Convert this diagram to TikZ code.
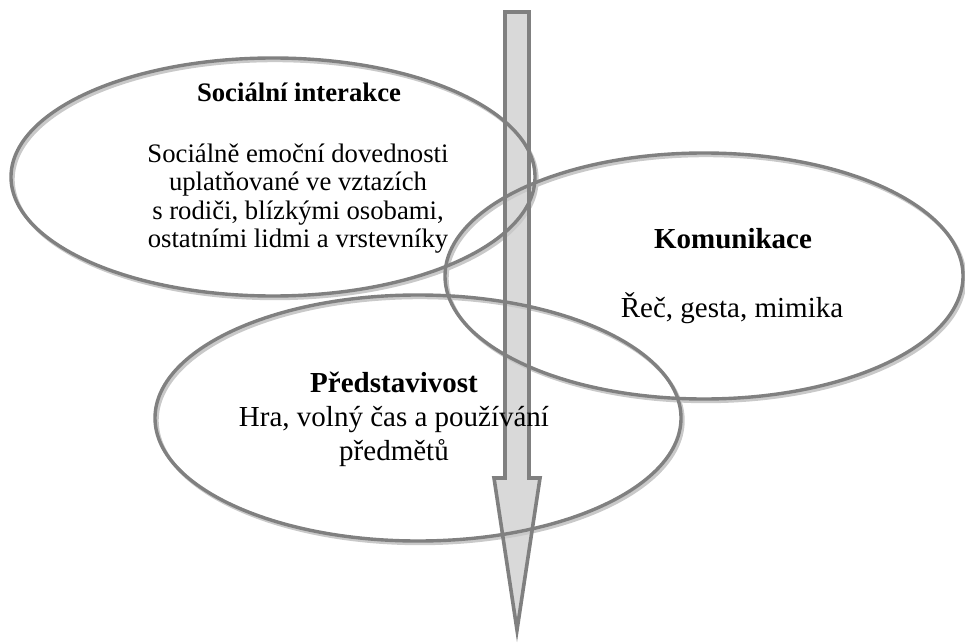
\documentclass[tikz,border=0pt]{standalone}
\usepackage{fontspec}
\setmainfont{Liberation Serif}
\usetikzlibrary{shapes.geometric}
\definecolor{linegray}{HTML}{808080}
\definecolor{shadowgray}{HTML}{C9C9C9}
\definecolor{arrowfill}{HTML}{D9D9D9}
\tikzset{
  ell/.style={shape=ellipse, draw=linegray, line width=3.4pt, inner sep=0pt, outer sep=0pt},
  ellshadow/.style={shape=ellipse, draw=shadowgray, line width=3.4pt, inner sep=0pt, outer sep=0pt},
  small/.style={font=\fontsize{26.7}{29}\selectfont, anchor=base, inner sep=0pt},
  big/.style={font=\fontsize{29}{33}\selectfont, anchor=base, inner sep=0pt},
  arrowshape/.style={line width=3.6pt, line join=miter}
}
\begin{document}
\begin{tikzpicture}[x=1pt,y=-1pt]
\useasboundingbox (0,0) rectangle (965,644);
% arrow points
\coordinate (a1) at (505,12);
\coordinate (a2) at (529,12);
\coordinate (a3) at (529,478);
\coordinate (a4) at (540,478);
\coordinate (a5) at (517,630);
\coordinate (a6) at (494,478);
\coordinate (a7) at (505,478);
\fill[arrowfill] (a1) -- (a2) -- (a3) -- (a4) -- (a5) -- (a6) -- (a7) -- cycle;
% shadows
\node[ellshadow, minimum width=524pt, minimum height=238pt] (e1s) at (275,179.5) {};
\node[ellshadow, minimum width=518pt, minimum height=246pt] (e2s) at (706,278.5) {};
\node[ellshadow, minimum width=526pt, minimum height=246pt] (e3s) at (420,420.5) {};
% ellipses
\node[ell, minimum width=524pt, minimum height=238pt] (e1) at (273,177) {};
\node[ell, minimum width=518pt, minimum height=246pt] (e2) at (704,276) {};
\node[ell, minimum width=526pt, minimum height=246pt] (e3) at (418,418) {};
% arrow outline
\draw[linegray, arrowshape] (a1) -- (a2) -- (a3) -- (a4) -- (a5) -- (a6) -- (a7) -- cycle;
% texts
\node[small, font=\fontsize{26.7}{29}\selectfont\bfseries] (t1) at (299,102) {Sociální interakce};
\node[small] (t1a) at (298,163) {Sociálně emoční dovednosti};
\node[small] (t1b) at (298,191) {uplatňované ve vztazích};
\node[small] (t1c) at (298,219) {s rodiči, blízkými osobami,};
\node[small] (t1d) at (298,247) {ostatními lidmi a vrstevníky};
\node[big, font=\fontsize{29}{33}\selectfont\bfseries] (t2) at (733,248) {Komunikace};
\node[big] (t2a) at (732,317) {Řeč, gesta, mimika};
\node[big, font=\fontsize{29}{33}\selectfont\bfseries] (t3) at (394,392) {Představivost};
\node[big] (t3a) at (394,426) {Hra, volný čas a používání};
\node[big] (t3b) at (394,460) {předmětů};
\end{tikzpicture}
\end{document}
